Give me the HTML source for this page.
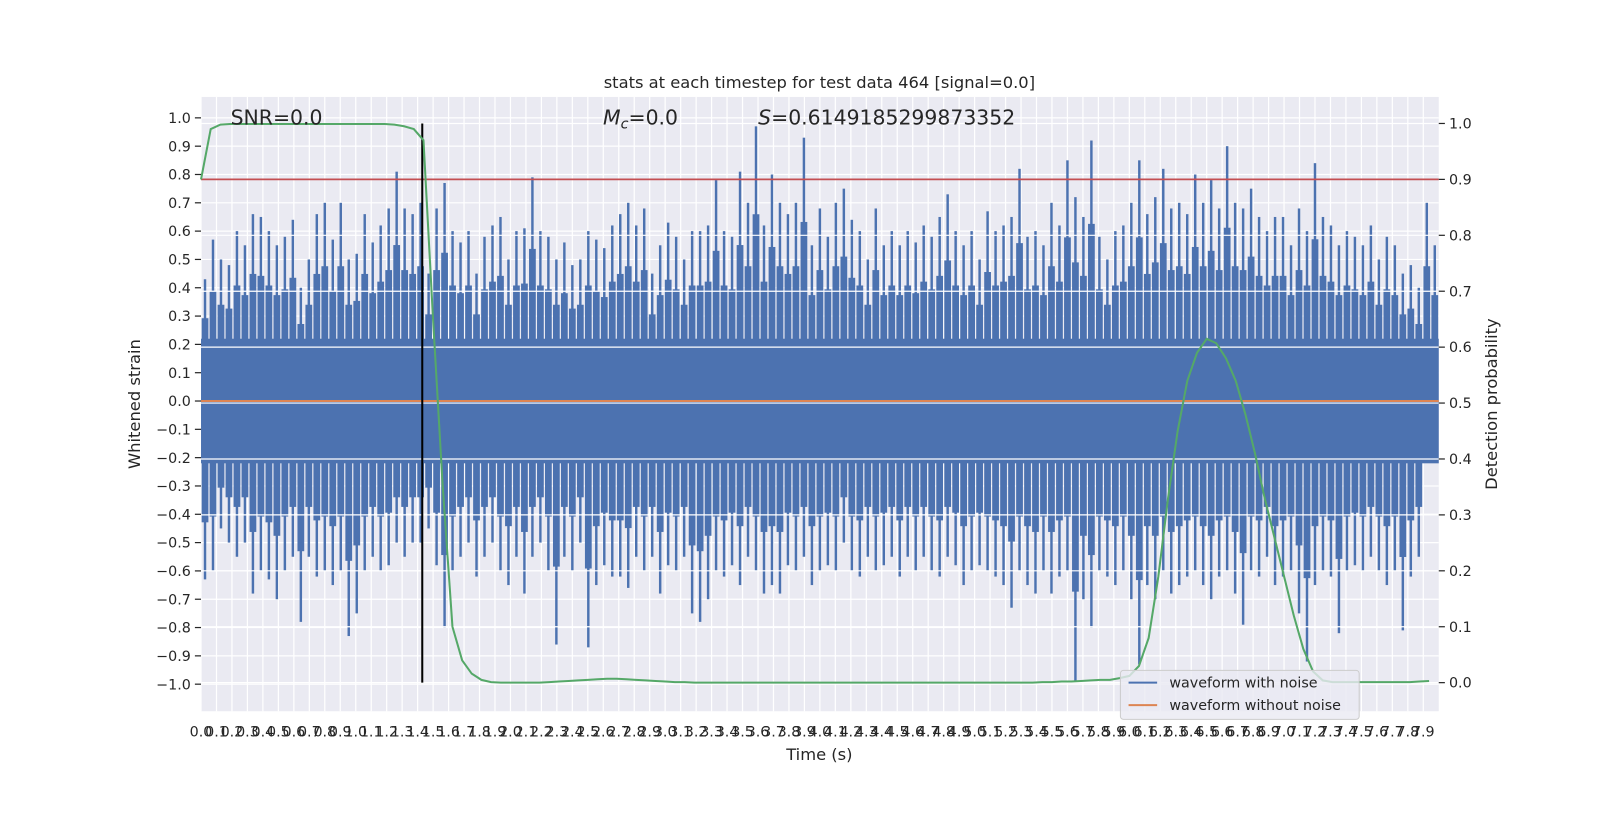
<!DOCTYPE html>
<html><head><meta charset="utf-8"><style>
html,body{margin:0;padding:0;width:1600px;height:800px;overflow:hidden;background:#fff;}
#wrap{position:absolute;left:0;top:0;width:1600px;height:800px;transform:scale(1.0204);transform-origin:0 0;}
svg{position:absolute;left:0;top:0;display:block;}
svg text{font-family:"DejaVu Sans","Liberation Sans",sans-serif;fill:#262626;}
</style></head><body>
<div id="wrap">
<svg id="chart" width="1600" height="800" xmlns="http://www.w3.org/2000/svg">
<rect x="0" y="0" width="1600" height="800" fill="#ffffff"/>
<g id="plot"></g>
</svg>
<svg width="1600" height="800" xmlns="http://www.w3.org/2000/svg">
<text x="803" y="86" text-anchor="middle" font-size="16">stats at each timestep for test data 464 [signal=0.0]</text>
<text x="803" y="745" text-anchor="middle" font-size="16">Time (s)</text>
<text transform="translate(137,396) rotate(-90)" text-anchor="middle" font-size="16">Whitened strain</text>
<text transform="translate(1467,396) rotate(-90)" text-anchor="middle" font-size="16">Detection probability</text>
<text x="226" y="122" font-size="20">SNR=0.0</text>
<text x="591" y="122" font-size="20"><tspan font-style="italic">M</tspan><tspan font-style="italic" font-size="14" dy="4">c</tspan><tspan dy="-4">=0.0</tspan></text>
<text x="743" y="122" font-size="20"><tspan font-style="italic">S</tspan>=0.6149185299873352</text>
<g>
<rect x="1098" y="657" width="234" height="48" rx="3" fill="#eaeaf2" fill-opacity="0.8" stroke="#cccccc"/>
<line x1="1106" x2="1134" y1="669" y2="669" stroke="#4c72b0" stroke-width="2"/>
<text x="1146" y="674" font-size="14">waveform with noise</text>
<line x1="1106" x2="1134" y1="691" y2="691" stroke="#dd8452" stroke-width="2"/>
<text x="1146" y="696" font-size="14">waveform without noise</text>
</g>
</svg>
</div>
<script>
// ---- data ----
var xTicks = [];
for (var i = 0; i < 80; i++) xTicks.push(i / 10);
var leftTicks = [-1.0,-0.9,-0.8,-0.7,-0.6,-0.5,-0.4,-0.3,-0.2,-0.1,0.0,0.1,0.2,0.3,0.4,0.5,0.6,0.7,0.8,0.9,1.0];
var rightTicks = [0.0,0.1,0.2,0.3,0.4,0.5,0.6,0.7,0.8,0.9,1.0];
var upperPeaks = [0.43,0.57,0.5,0.48,0.6,0.55,0.66,0.65,0.6,0.55,0.58,0.64,0.4,0.5,0.66,0.7,0.57,0.7,0.5,0.52,0.66,0.56,0.62,0.68,0.81,0.68,0.66,0.7,0.45,0.68,0.77,0.6,0.56,0.6,0.45,0.58,0.62,0.65,0.5,0.6,0.61,0.79,0.6,0.58,0.5,0.56,0.48,0.5,0.6,0.57,0.54,0.62,0.66,0.7,0.62,0.68,0.45,0.55,0.63,0.58,0.5,0.6,0.6,0.62,0.78,0.6,0.58,0.81,0.7,0.97,0.62,0.8,0.7,0.66,0.7,0.93,0.55,0.68,0.58,0.7,0.75,0.64,0.6,0.5,0.68,0.55,0.6,0.55,0.6,0.56,0.62,0.58,0.65,0.73,0.6,0.55,0.6,0.5,0.67,0.6,0.62,0.65,0.82,0.58,0.6,0.55,0.7,0.62,0.85,0.72,0.65,0.92,0.58,0.5,0.6,0.62,0.7,0.85,0.66,0.72,0.82,0.68,0.7,0.66,0.8,0.7,0.78,0.68,0.9,0.7,0.68,0.75,0.65,0.6,0.65,0.65,0.55,0.68,0.6,0.84,0.65,0.62,0.55,0.6,0.58,0.55,0.62,0.5,0.58,0.55,0.45,0.48,0.4,0.7,0.55];
var lowerPeaks = [-0.63,-0.6,-0.45,-0.5,-0.55,-0.5,-0.68,-0.6,-0.63,-0.7,-0.6,-0.55,-0.78,-0.55,-0.62,-0.6,-0.65,-0.6,-0.83,-0.75,-0.6,-0.55,-0.6,-0.58,-0.5,-0.55,-0.5,-0.5,-0.45,-0.58,-0.8,-0.6,-0.55,-0.5,-0.62,-0.55,-0.5,-0.6,-0.65,-0.55,-0.68,-0.55,-0.5,-0.6,-0.86,-0.55,-0.6,-0.5,-0.87,-0.65,-0.58,-0.62,-0.62,-0.66,-0.55,-0.6,-0.55,-0.68,-0.58,-0.6,-0.55,-0.75,-0.78,-0.7,-0.6,-0.62,-0.58,-0.65,-0.55,-0.6,-0.68,-0.65,-0.68,-0.58,-0.6,-0.55,-0.65,-0.6,-0.58,-0.6,-0.5,-0.6,-0.62,-0.55,-0.6,-0.58,-0.55,-0.62,-0.55,-0.6,-0.55,-0.6,-0.62,-0.55,-0.58,-0.65,-0.6,-0.58,-0.6,-0.62,-0.65,-0.73,-0.6,-0.65,-0.68,-0.6,-0.68,-0.62,-0.6,-0.99,-0.7,-0.8,-0.6,-0.62,-0.65,-0.6,-0.7,-0.93,-0.65,-0.7,-0.6,-0.68,-0.65,-0.62,-0.6,-0.65,-0.7,-0.62,-0.6,-0.68,-0.79,-0.6,-0.62,-0.55,-0.65,-0.62,-0.6,-0.75,-0.92,-0.65,-0.6,-0.62,-0.82,-0.6,-0.58,-0.6,-0.55,-0.6,-0.65,-0.6,-0.81,-0.62,-0.55];
var bandLevel = 0.22;
var probValues = [0.90,0.99,0.998,0.999,0.999,0.999,0.999,0.999,0.999,0.999,0.999,0.999,0.999,0.999,0.999,0.999,0.999,0.999,0.999,0.999,0.998,0.995,0.99,0.97,0.65,0.35,0.10,0.04,0.016,0.005,0.001,0.0,0.0,0.0,0.0,0.0,0.001,0.002,0.003,0.004,0.005,0.006,0.007,0.007,0.006,0.005,0.004,0.003,0.002,0.001,0.001,0.0,0.0,0.0,0.0,0.0,0.0,0.0,0.0,0.0,0.0,0.0,0.0,0.0,0.0,0.0,0.0,0.0,0.0,0.0,0.0,0.0,0.0,0.0,0.0,0.0,0.0,0.0,0.0,0.0,0.0,0.0,0.0,0.0,0.0,0.0,0.0,0.001,0.001,0.002,0.002,0.003,0.004,0.005,0.005,0.008,0.012,0.03,0.08,0.19,0.33,0.45,0.54,0.59,0.615,0.607,0.58,0.54,0.48,0.41,0.33,0.26,0.19,0.12,0.06,0.02,0.004,0.001,0.001,0.001,0.001,0.001,0.001,0.001,0.001,0.001,0.002,0.003];
var probStep = 1 / 16;
var threshold = 0.9;
var markerTime = 1.43;

// ---- axes ----
var L = 197, R = 1410, T = 95, B = 697;
function xs(t){ return L + (t - 0) / 8.0 * (R - L); }
function yl(v){ return 393 - v * 277.5; }
function yr(v){ return 669 - v * 548; }
var NS = 'http://www.w3.org/2000/svg';
var g = document.getElementById('plot');
function mk(tag, attrs, parent){
  var e = document.createElementNS(NS, tag);
  for (var k in attrs) e.setAttribute(k, attrs[k]);
  (parent || g).appendChild(e);
  return e;
}
var bg = mk('rect', {x:L, y:T, width:R-L, height:B-T, fill:'#eaeaf2'});



var grid = mk('g', {stroke:'#ffffff', 'stroke-width':1.2});


xTicks.forEach(function(t){ mk('line', {x1:xs(t), x2:xs(t), y1:T, y2:B}, grid); });
leftTicks.forEach(function(v){ mk('line', {x1:L, x2:R, y1:yl(v), y2:yl(v)}, grid); });

// noise waveform
var wave = mk('g', {fill:'#4c72b0', stroke:'none'});


mk('rect', {x:L, y:yl(bandLevel), width:R-L, height:yl(-bandLevel)-yl(bandLevel)}, wave);
var bw = 8.0 / upperPeaks.length;
var bpx = xs(bw) - xs(0);
upperPeaks.forEach(function(v, i){
  var x0 = xs(i * bw);
  var x = xs((i + 0.5) * bw);
  var b = mk('rect', {x:x0+0.6, y:yl(v*0.68), width:bpx-1.2, height:yl(0)-yl(v*0.68)}, wave);
  
  
  var r = mk('rect', {x:x-1.2, y:yl(v), width:2.4, height:yl(0)-yl(v)}, wave);
  
  
});
lowerPeaks.forEach(function(v, i){
  var x0 = xs(i * bw);
  var x = xs((i + 0.5) * bw);
  var b = mk('rect', {x:x0+0.6, y:yl(0), width:bpx-1.2, height:yl(v*0.68)-yl(0)}, wave);
  
  
  var r = mk('rect', {x:x-1.2, y:yl(0), width:2.4, height:yl(v)-yl(0)}, wave);
  
  
});

var clean = mk('line', {x1:L, x2:R, y1:yl(0), y2:yl(0), stroke:'#dd8452', 'stroke-width':2});



var grid2 = mk('g', {stroke:'#ffffff', 'stroke-width':1.2});


rightTicks.forEach(function(v){ mk('line', {x1:L, x2:R, y1:yr(v), y2:yr(v)}, grid2); });

var th = mk('line', {x1:L, x2:R, y1:yr(threshold), y2:yr(threshold), stroke:'#c44e52', 'stroke-width':1.8});



var vl = mk('line', {x1:xs(markerTime), x2:xs(markerTime), y1:yr(1), y2:yr(0), stroke:'#000', 'stroke-width':2});



var pts = probValues.map(function(v, i){ return xs(i * probStep).toFixed(1) + ',' + yr(v).toFixed(1); }).join(' ');
var pl = mk('polyline', {points:pts, fill:'none', stroke:'#55a868', 'stroke-width':2});



var ax = mk('g', {'font-size':'14'});


leftTicks.forEach(function(v){
  mk('line', {x1:L-6, x2:L, y1:yl(v), y2:yl(v), stroke:'#262626', 'stroke-width':1.2}, ax);
  var t = mk('text', {x:L-10, y:yl(v)+5, 'text-anchor':'end'}, ax);
  t.textContent = (v < 0 ? '\u2212' + Math.abs(v).toFixed(1) : v.toFixed(1));
  
  
});
rightTicks.forEach(function(v){
  mk('line', {x1:R, x2:R+6, y1:yr(v), y2:yr(v), stroke:'#262626', 'stroke-width':1.2}, ax);
  var t = mk('text', {x:R+10, y:yr(v)+5, 'text-anchor':'start'}, ax);
  t.textContent = v.toFixed(1);
  
  
});
xTicks.forEach(function(v){
  var t = mk('text', {x:xs(v), y:722, 'text-anchor':'middle'}, ax);
  t.textContent = v.toFixed(1);
  
  
});
</script>
</body></html>
